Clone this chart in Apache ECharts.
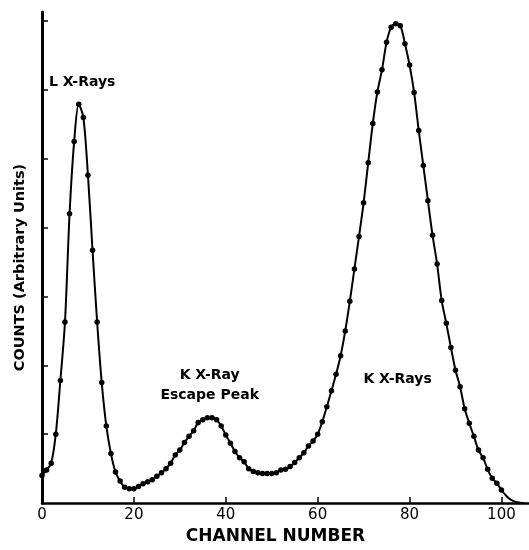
<!DOCTYPE html>
<html>
<head>
<meta charset="utf-8">
<script src="https://cdn.jsdelivr.net/npm/echarts@6/dist/echarts.min.js"></script>
<style>html,body{margin:0;padding:0;background:#fff;}#c{width:529px;height:550px;}</style>
</head>
<body>
<div id="c"></div>
<script>
// Channel numbers (0..100) and counts (arbitrary units, x100)
const channels = [];
for (let i = 0; i <= 100; i++) channels.push(i);
const counts = [
  40, 48, 58, 100, 178, 263, 420, 525, 579, 560,
  476, 367, 263, 175, 112, 72, 45, 32, 23, 21,
  21, 24, 28, 31, 34, 39, 44, 50, 58, 70,
  77, 88, 97, 105, 117, 121, 124, 124, 121, 112,
  99, 87, 75, 66, 60, 50, 46, 44, 43, 43,
  43, 44, 48, 49, 53, 59, 66, 73, 83, 90,
  100, 118, 140, 163, 187, 214, 250, 293, 340, 387,
  436, 494, 551, 597, 629, 669, 691, 696, 693, 667,
  636, 596, 541, 490, 439, 389, 347, 294, 261, 226,
  193, 169, 137, 116, 97, 77, 66, 49, 36, 29,
  19
];
// tail of the fitted curve beyond the last measured point (no markers)
const tailChannels = [100, 101, 102, 103, 104, 105];
const tailCounts = [19, 11, 5, 2, 0.6, 0];

const xTickValues = [20, 40, 60, 80, 100];
const xLabelValues = [0, 20, 40, 60, 80, 100];
const yTickValues = [100, 200, 300, 400, 500, 600, 700];

// annotations: [text, channel, count, align]
const annotations = [
  ['L X-Rays', 1.5, 611, 'left'],
  ['K X-Ray', 36.5, 186, 'center'],
  ['Escape Peak', 36.5, 157, 'center'],
  ['K X-Rays', 77.4, 180, 'center']
];

const mainData = channels.map((c, i) => [c, counts[i]]);
const tailData = tailChannels.map((c, i) => [c, tailCounts[i]]);

const FONT = 'DejaVu Sans';
const chart = echarts.init(document.getElementById('c'), null, {renderer: 'canvas'});
chart.setOption({
  backgroundColor: '#fff',
  animation: false,
  grid: {left: 42, right: 0, top: 12, bottom: 39, containLabel: false},
  xAxis: {
    type: 'value', min: 0, max: 106, interval: 20,
    splitLine: {show: false},
    axisLine: {show: true, lineStyle: {color: '#000', width: 2.5}},
    axisTick: {show: true, inside: true, length: 6, lineStyle: {color: '#000', width: 1.5}, customValues: xTickValues},
    axisLabel: {show: true, color: '#000', fontSize: 15, fontFamily: FONT, margin: 5, customValues: xLabelValues},
    name: 'CHANNEL NUMBER', nameLocation: 'middle', nameGap: 21,
    nameTextStyle: {color: '#000', fontSize: 17, fontWeight: 'bold', fontFamily: FONT, padding: [0, 20, 0, 0], verticalAlign: 'top'}
  },
  yAxis: {
    type: 'value', min: 0, max: 713, interval: 100,
    splitLine: {show: false},
    axisLine: {show: true, lineStyle: {color: '#000', width: 3}},
    axisTick: {show: true, inside: true, length: 6, lineStyle: {color: '#000', width: 1.5}, customValues: yTickValues},
    axisLabel: {show: false},
    name: 'COUNTS (Arbitrary Units)', nameLocation: 'middle', nameGap: 14, nameRotate: 90,
    nameTextStyle: {color: '#000', fontSize: 14.5, fontWeight: 'bold', fontFamily: FONT, padding: [0, 20, 0, 0]}
  },
  series: [
    {
      type: 'line', data: tailData, symbol: 'none', smooth: 0.4,
      lineStyle: {color: '#000', width: 2}, z: 2
    },
    {
      type: 'line', data: mainData, symbol: 'circle', symbolSize: 5.5, smooth: 0.3,
      itemStyle: {color: '#000'}, lineStyle: {color: '#000', width: 2}, z: 3
    }
  ]
});

const graphics = annotations.map(a => {
  const p = chart.convertToPixel({gridIndex: 0}, [a[1], a[2]]);
  return {
    type: 'text', x: p[0], y: p[1],
    style: {text: a[0], fill: '#000', font: 'bold 14px "' + FONT + '"', align: a[3], verticalAlign: 'middle'}
  };
});
chart.setOption({graphic: graphics});
</script>
</body>
</html>
